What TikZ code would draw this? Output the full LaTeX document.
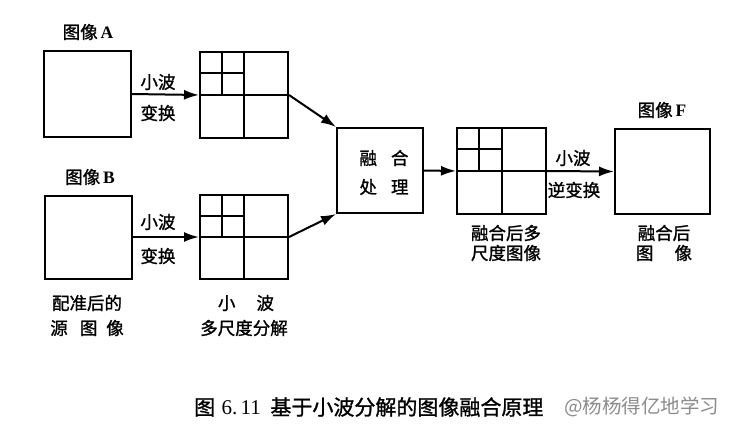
\documentclass[tikz,border=0pt]{standalone}
\usepackage{fontspec}
\setmainfont{Liberation Serif}
\newfontfamily\cjk{Noto Sans CJK SC}[FakeBold=1.2]
\usetikzlibrary{arrows.meta,calc}
\tikzset{
  box/.style={draw, line width=2pt, rectangle, inner sep=0pt},
  lab/.style={font=\cjk\fontsize{17.5}{21}\selectfont, inner sep=0pt, align=center},
  arr/.style={line width=2pt, -{Latex[length=15pt,width=10pt]}},
  gridline/.style={line width=2pt}
}
\newcommand{\wgrid}[1]{%
  \draw[gridline] (#1.north) -- (#1.south);
  \draw[gridline] (#1.west) -- (#1.east);
  \draw[gridline] ($(#1.north west)!0.5!(#1.north)$) -- ($(#1.west)!0.5!(#1.center)$);
  \draw[gridline] ($(#1.north west)!0.5!(#1.west)$) -- ($(#1.north)!0.5!(#1.center)$);
}
\begin{document}
\begin{tikzpicture}[x=1pt,y=-1pt]
\useasboundingbox[fill=white] (0,0) rectangle (733,428);
% boxes
\node[box, minimum width=87pt, minimum height=86pt] (A) at (87,94) {};
\node[box, minimum width=87pt, minimum height=83pt] (B) at (88,237) {};
\node[box, minimum width=88pt, minimum height=86pt] (wa) at (244,95) {};
\node[box, minimum width=88pt, minimum height=84pt] (wb) at (244,237) {};
\node[box, minimum width=86pt, minimum height=85pt] (fu) at (380,170.5) {};
\node[box, minimum width=89pt, minimum height=86pt] (wf) at (501.5,171) {};
\node[box, minimum width=95pt, minimum height=85pt] (F) at (662.5,171.5) {};
\wgrid{wa}
\wgrid{wb}
\wgrid{wf}
% labels
\node[lab] (la) at (88,32) {图像\,{\rmfamily\bfseries A}};
\node[lab] (lb) at (90,177) {图像\,{\rmfamily\bfseries B}};
\node[lab] (lf) at (662,110) {图像\,{\rmfamily\bfseries F}};
\node[lab] (ta1) at (158,82) {小波};
\node[lab] (ta2) at (158,113) {变换};
\node[lab] (tb1) at (158,222) {小波};
\node[lab] (tb2) at (158,256) {变换};
\node[lab] (fu1) at (384,158) {融\hspace{0.8em}合};
\node[lab] (fu2) at (384,187) {处\hspace{0.8em}理};
\node[lab] (tf1) at (573,158) {小波};
\node[lab] (tf2) at (574,190) {逆变换};
\node[lab] (src1) at (87,303) {配准后的};
\node[lab] (src2) at (87,328) {源\hspace{0.7em}图\hspace{0.5em}像};
\node[lab] (ms1) at (246,303) {小\hspace{1.2em}波};
\node[lab] (ms2) at (244,328) {多尺度分解};
\node[lab] (fm1) at (506,233) {融合后多};
\node[lab] (fm2) at (506,253) {尺度图像};
\node[lab] (fi1) at (664,233) {融合后};
\node[lab] (fi2) at (664,253) {图\hspace{1.2em}像};
% arrows
\draw[arr] (A.east) -- (wa.west);
\draw[arr] (B.east) -- (wb.west);
\draw[arr] (wa.east) -- (fu.north west);
\draw[arr] (wb.east) -- (fu.south west);
\draw[arr] (fu.east) -- (wf.west);
\draw[arr] (wf.east) -- (F.west);
% caption
\node[anchor=west, inner sep=0pt, font=\cjk\fontsize{21}{24}\selectfont] (cap) at (194,407) {图\hspace{0.3em}{\rmfamily 6.\,11}\hspace{0.45em}基于小波分解的图像融合原理};
\node[anchor=west, inner sep=0pt, font={\fontspec{Noto Sans CJK SC}\fontsize{19.5}{22}\selectfont}, text=black!45] (wm) at (564,407) {@杨杨得亿地学习};
\end{tikzpicture}
\end{document}
